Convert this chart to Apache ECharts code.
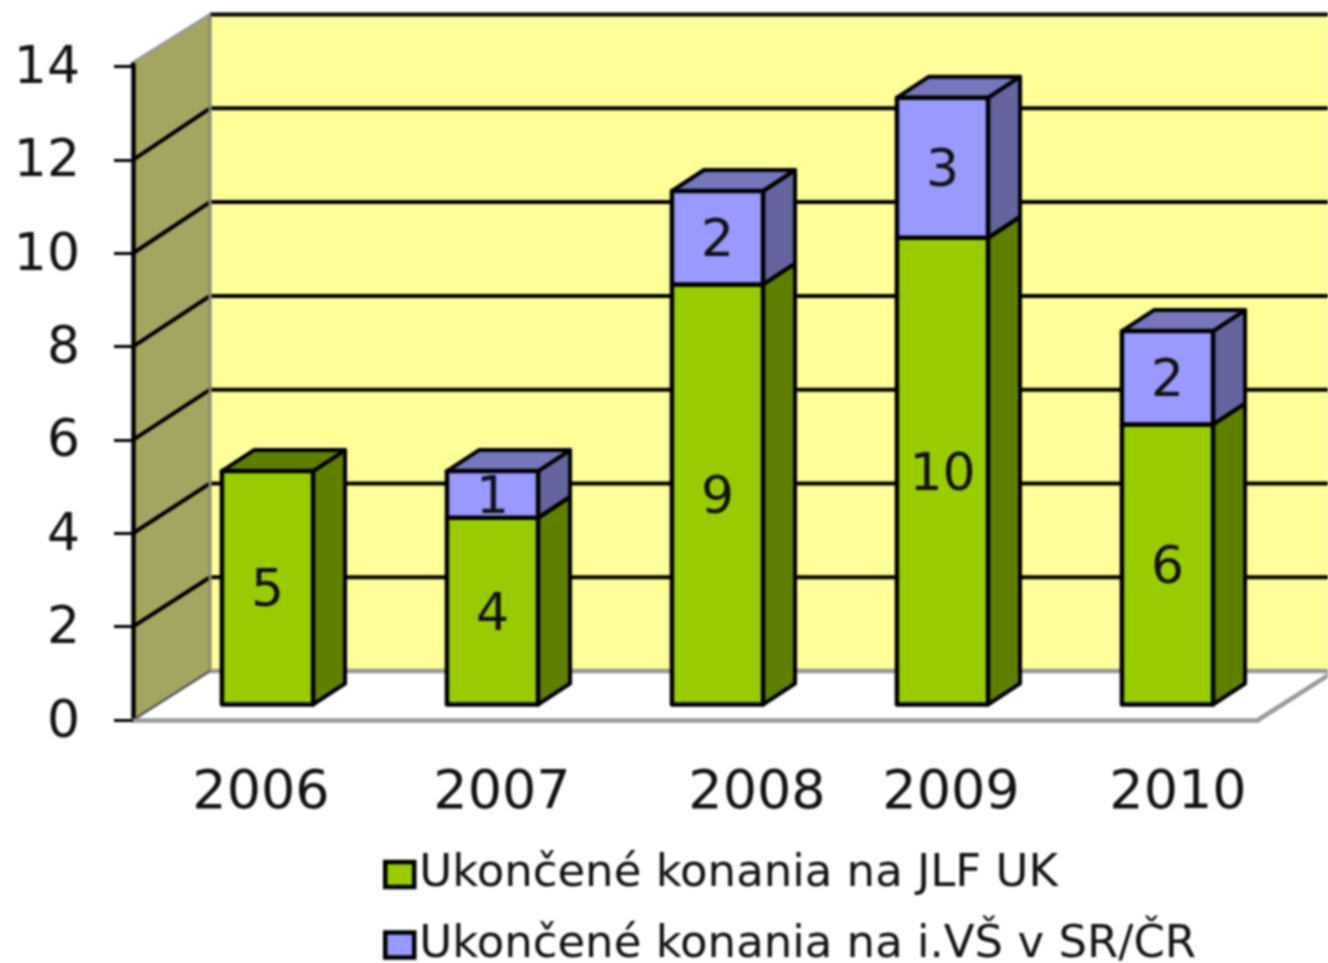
<!DOCTYPE html>
<html>
<head>
<meta charset="utf-8">
<script src="https://cdn.jsdelivr.net/npm/echarts@6/dist/echarts.min.js"></script>
<style>html,body{margin:0;padding:0;background:#fff;overflow:hidden}#c{width:1328px;height:963px;filter:blur(0.9px)}</style>
</head>
<body>
<div id="c"></div>
<script>
const categories = ['2006', '2007', '2008', '2009', '2010'];
const seriesNames = ['Ukončené konania na JLF UK', 'Ukončené konania na i.VŠ v SR/ČR'];
const jlfValues = [5, 4, 9, 10, 6];
const otherValues = [0, 1, 2, 3, 2];
const yTicks = [0, 2, 4, 6, 8, 10, 12, 14];

// layout (pixels): depth of the box, offsets of the bars and of the year labels
const WALL = { dx: 77, dy: -49, stretch: 1.0045, over: 4 };
const BAR = { dx: 32, dy: -21, shiftX: 22, shiftY: -15.5, ratio: 0.405 };
const labelShift = [15.5, 31.5, 61.5, 30.5, 32.5];
const FONT = '"DejaVu Sans", sans-serif';
const INK = '#111';

const rich = {};
categories.forEach((c, i) => {
  rich['c' + i] = { fontSize: 54, fontFamily: FONT, color: INK, padding: [0, 0, 0, labelShift[i] * 2] };
});

function poly(points, fill, stroke, lw) {
  return { type: 'polygon', shape: { points }, style: { fill, stroke, lineWidth: lw, lineJoin: 'round' } };
}
function line(a, b, stroke, lw) {
  return { type: 'line', shape: { x1: a[0], y1: a[1], x2: b[0], y2: b[1] }, style: { stroke, lineWidth: lw } };
}

function renderWalls(params, api) {
  const step = api.size([1, 0])[0];
  const x0 = api.coord([0, 0])[0] - step / 2;
  const x1 = x0 + step * categories.length;
  const y = v => api.coord([0, v])[1];
  const back = v => y(0) + WALL.dy + (y(v) - y(0)) * WALL.stretch;
  const top = yTicks[yTicks.length - 1];
  const d = WALL;
  const xb0 = x0 + d.dx, xb1 = x1 + d.dx;
  const frontTop = y(top) - d.over;
  const kids = [
    poly([[xb0, back(0)], [xb1, back(0)], [xb1, back(top)], [xb0, back(top)]], '#ffff99', null, 0),
    poly([[x0, y(0)], [xb0, back(0)], [xb0, back(top)], [x0, frontTop]], '#a5a562', null, 0),
    poly([[x0, y(0)], [xb0, back(0)], [xb1, back(0)], [x1, y(0)]], '#ffffff', null, 0)
  ];
  yTicks.forEach(v => {
    if (v === 0) return;
    kids.push(line([xb0, back(v)], [xb1, back(v)], '#000', 4));
    if (v !== top) kids.push(line([x0, y(v)], [xb0, back(v)], '#000', 4));
  });
  kids.push(line([xb0, back(0)], [xb1, back(0)], '#999', 4.5));
  kids.push(line([x1, y(0)], [xb1, back(0)], '#999', 4.5));
  kids.push(line([x0, y(0)], [xb0, back(0)], '#555', 2.5));
  kids.push(line([x0, frontTop], [xb0, back(top)], '#999', 3));
  kids.push(line([xb0, back(0)], [xb0, back(top)], '#8a8a70', 3));
  kids.push(line([x0, frontTop], [x0, y(top)], '#000', 4.5));
  return { type: 'group', children: kids };
}

function makeBox(front, side, topFill) {
  return function (params, api) {
    const value = api.value(1);
    if (!value) return null;
    const base = api.value(2);
    const i = api.value(0);
    const w = api.size([1, 0])[0] * BAR.ratio;
    const cx = api.coord([i, 0])[0] + BAR.shiftX;
    const yb = api.coord([i, base])[1] + BAR.shiftY;
    const yt = api.coord([i, base + value])[1] + BAR.shiftY;
    const l = cx - w / 2, r = cx + w / 2;
    const dx = BAR.dx, dy = BAR.dy;
    return {
      type: 'group',
      children: [
        poly([[r, yb], [r + dx, yb + dy], [r + dx, yt + dy], [r, yt]], side, '#000', 4),
        poly([[l, yt], [r, yt], [r + dx, yt + dy], [l + dx, yt + dy]], topFill, '#000', 4),
        poly([[l, yb], [r, yb], [r, yt], [l, yt]], front, '#000', 4.5),
        { type: 'text', style: { x: cx, y: (yb + yt) / 2 + 5, text: String(value), align: 'center', verticalAlign: 'middle', fontSize: 52, fontFamily: FONT, fill: INK } }
      ]
    };
  };
}

const stackedBase = jlfValues;
const jlfData = jlfValues.map((v, i) => [i, v, 0]);
const otherData = otherValues.map((v, i) => [i, v, stackedBase[i]]);

const chart = echarts.init(document.getElementById('c'), null, { renderer: 'canvas' });
chart.setOption({
  animation: false,
  backgroundColor: '#fff',
  grid: { left: 133, top: 66.5, width: 1125, height: 653.5, containLabel: false },
  legend: {
    orient: 'vertical', left: 383, top: 852, padding: 0, height: 140, itemWidth: 29, itemHeight: 25, itemGap: 25.5,
    icon: 'rect', selectedMode: false,
    itemStyle: { borderColor: '#000', borderWidth: 4.5 },
    textStyle: { fontSize: 45, fontFamily: FONT, color: INK },
    data: seriesNames
  },
  xAxis: {
    type: 'category', data: categories, z: 5,
    axisLine: { show: true, onZero: false, lineStyle: { color: '#999', width: 4.5 } },
    axisTick: { show: false },
    axisLabel: {
      margin: 47, interval: 0,
      formatter: (v, i) => '{c' + i + '|' + v + '}',
      rich
    }
  },
  yAxis: {
    type: 'value', min: 0, max: 14, interval: 2, z: 5,
    axisLine: { show: true, lineStyle: { color: '#000', width: 4.5 } },
    axisTick: { show: true, length: 19, lineStyle: { color: '#000', width: 3 } },
    axisLabel: {
      margin: 53,
      formatter: '{v|{value}}',
      rich: { v: { fontSize: 52, fontFamily: FONT, color: INK, padding: [6, 0, 0, 0] } }
    },
    splitLine: { show: false }
  },
  series: [
    { type: 'custom', name: 'walls', silent: true, z: 1, data: [[0, 0]], encode: { x: 0, y: 1 }, renderItem: renderWalls },
    { type: 'custom', name: seriesNames[0], z: 2, itemStyle: { color: '#99cc00' }, data: jlfData, encode: { x: 0, y: 1 }, renderItem: makeBox('#99cc00', '#5f7f00', '#5f7f00') },
    { type: 'custom', name: seriesNames[1], z: 3, itemStyle: { color: '#9999ff' }, data: otherData, encode: { x: 0, y: 1 }, renderItem: makeBox('#9999ff', '#64649e', '#7676bb') }
  ]
});
</script>
</body>
</html>
